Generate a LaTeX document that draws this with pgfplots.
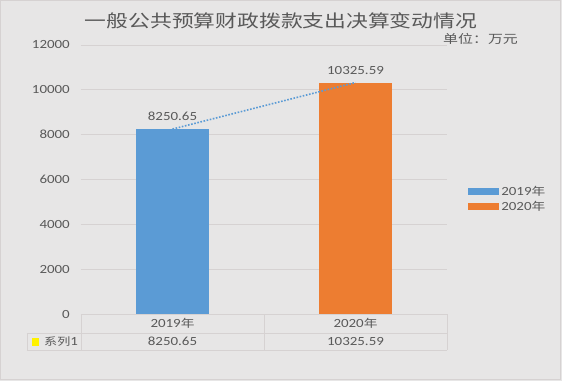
\documentclass[border=0pt]{standalone}
\usepackage{fontspec}
\setmainfont{Carlito}[FakeStretch=1.2]
\newfontfamily\cjk{Noto Sans CJK SC}[FakeStretch=1.25]
\usepackage{pgfplots}
\pgfplotsset{compat=1.18}
\definecolor{bg}{HTML}{E7E6E6}
\definecolor{txt}{HTML}{595959}
\definecolor{gridc}{HTML}{D6D2D2}
\definecolor{cblue}{HTML}{5B9BD5}
\definecolor{corange}{HTML}{ED7D31}
\begin{document}
\begin{tikzpicture}[x=1bp,y=1bp]
\fill[bg] (-81,-67) rectangle (481,314);
\draw[gridc, line width=0.75bp] (-80.5,-65) rectangle (479,313.5);
\begin{axis}[
  at={(0,0)}, anchor=south west, scale only axis,
  width=366bp, height=269bp,
  xmin=-0.5, xmax=1.5, ymin=0, ymax=12000,
  clip=false, scaled y ticks=false,
  xtick={0,1}, xticklabels={2019{\cjk\fontsize{11}{13}\selectfont 年},2020{\cjk\fontsize{11}{13}\selectfont 年}},
  ytick={0,2000,...,12000},
  ymajorgrids, grid style={gridc, line width=0.75bp},
  axis line style={draw=none}, tick style={draw=none},
  tick label style={font=\fontsize{12.5}{14}\selectfont, text=txt},
  yticklabel style={/pgf/number format/1000 sep={}, /pgf/number format/assume math mode=true, anchor=east, inner sep=0pt, xshift=-11bp},
  xticklabel style={anchor=center, inner sep=0pt, yshift=-9.5bp},
  legend style={draw=none, fill=none, at={(1.057,0.428)}, anchor=west, inner sep=0pt, row sep=0pt, font=\fontsize{12.5}{14}\selectfont, text=txt, cells={anchor=west}, nodes={inner sep=2.2bp}},
  nodes near coords style={anchor=south, inner sep=0pt, yshift=8bp, font=\fontsize{12.5}{14}\selectfont, text=txt},
]
\addplot[ybar, bar width=73bp, bar shift=0pt, fill=cblue, draw=none,
  point meta=explicit symbolic, nodes near coords,
  legend image code/.code={\fill[cblue] (0bp,-3.2bp) rectangle (31bp,3.2bp);}]
  coordinates {(0,8250.65) [8250.65]};
\addlegendentry{2019{\cjk\fontsize{11}{13}\selectfont 年}}
\addplot[ybar, bar width=73bp, bar shift=0pt, fill=corange, draw=none,
  point meta=explicit symbolic, nodes near coords,
  legend image code/.code={\fill[corange] (0bp,-3.2bp) rectangle (31bp,3.2bp);}]
  coordinates {(1,10325.59) [10325.59]};
\addlegendentry{2020{\cjk\fontsize{11}{13}\selectfont 年}}
\addplot[forget plot, cblue, line width=1.6bp, dash pattern=on 1.6bp off 1.6bp] coordinates {(0,8250.65) (1,10325.59)};
\node[font=\fontsize{12.5}{14}\selectfont, text=txt] at (axis cs:0,0) [yshift=-27.5bp] {8250.65};
\node[font=\fontsize{12.5}{14}\selectfont, text=txt] at (axis cs:1,0) [yshift=-27.5bp] {10325.59};
\end{axis}
% data table grid
\draw[gridc, line width=0.75bp] (0,0) -- (366,0);
\draw[gridc, line width=0.75bp] (-54,-19) -- (366,-19);
\draw[gridc, line width=0.75bp] (-54,-36) -- (366,-36);
\draw[gridc, line width=0.75bp] (-54,-19) -- (-54,-36);
\draw[gridc, line width=0.75bp] (0,0) -- (0,-36);
\draw[gridc, line width=0.75bp] (183,0) -- (183,-36);
\draw[gridc, line width=0.75bp] (366,0) -- (366,-36);
\fill[yellow] (-49,-31.5) rectangle (-41.5,-24);
\node[anchor=west, inner sep=0pt, text=txt, font=\fontsize{12.5}{14}\selectfont] at (-37,-27.5) {{\cjk\fontsize{10.5}{12}\selectfont 系列}1};
% title and unit
\node[anchor=base, inner sep=0pt, text=txt, font=\cjk\fontsize{17.5}{20}\selectfont] at (200,287) {一般公共预算财政拨款支出决算变动情况};
\node[anchor=base west, inner sep=0pt, text=txt, font=\cjk\fontsize{12}{14}\selectfont] at (362,271) {单位：万元};
\pgfresetboundingbox
\useasboundingbox (-81,-67) rectangle (481,314);
\end{tikzpicture}
\end{document}
